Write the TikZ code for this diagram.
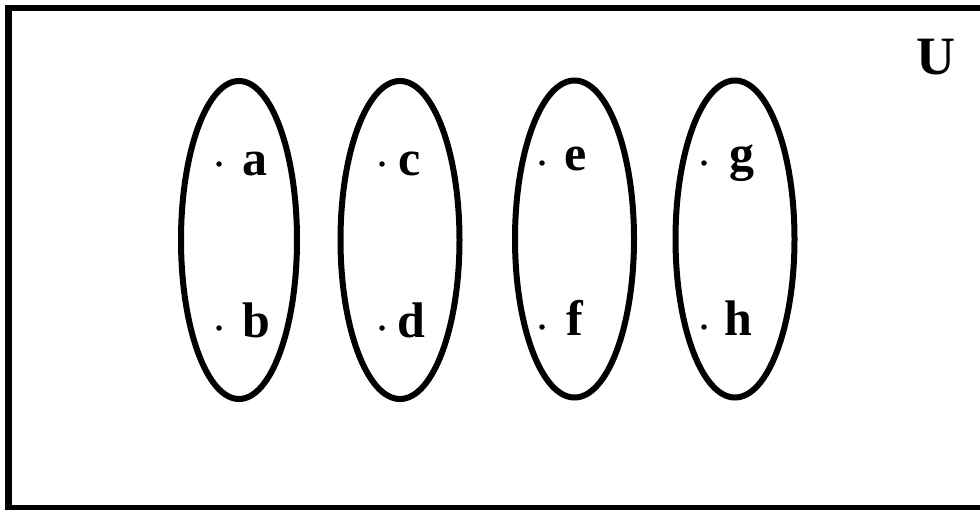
\documentclass[tikz,border=0pt]{standalone}
\usepackage{fontspec}
\setmainfont{Liberation Serif}
\usetikzlibrary{shapes.geometric}
\begin{document}
\begin{tikzpicture}[x=1pt,y=-1pt,
  setshape/.style={draw, ellipse, line width=6pt, inner sep=0pt, minimum width=119pt, minimum height=318pt},
  lbl/.style={inner sep=0pt, anchor=base west, font=\fontsize{50}{50}\selectfont\bfseries},
  dotpt/.style={circle, fill=black, inner sep=0pt, minimum size=5.5pt}]
\useasboundingbox (0,0) rectangle (980,509);
\clip (0,0) rectangle (980,509);
\node[draw, line width=6.5pt, inner sep=0pt, outer sep=0pt, anchor=north west, minimum width=1000pt, minimum height=500pt] (univ) at (8.5,8) {};
\node[setshape, minimum width=116pt] (s1) at (239,240) {};
\node[setshape] (s2) at (400,240) {};
\node[setshape, minimum height=317pt] (s3) at (574.5,239) {};
\node[setshape, minimum height=317pt] (s4) at (735,239) {};
\node[lbl, font=\fontsize{54}{54}\selectfont\bfseries] (U) at (916,74) {U};
\node[dotpt] (pa) at (219,164) {};
\node[lbl] (a) at (242,175) {a};
\node[dotpt] (pb) at (219,328) {};
\node[lbl] (b) at (242,337) {b};
\node[dotpt] (pc) at (382,164) {};
\node[lbl] (c) at (398,175) {c};
\node[dotpt] (pd) at (382,328) {};
\node[lbl] (d) at (397,337) {d};
\node[dotpt] (pe) at (542,163) {};
\node[lbl] (e) at (564,170) {e};
\node[dotpt] (pf) at (542,327) {};
\node[lbl] (f) at (566,335) {f};
\node[dotpt] (pg) at (704,163) {};
\node[lbl] (g) at (729,170) {g};
\node[dotpt] (ph) at (704,327) {};
\node[lbl] (h) at (724,335) {h};
\end{tikzpicture}
\end{document}
